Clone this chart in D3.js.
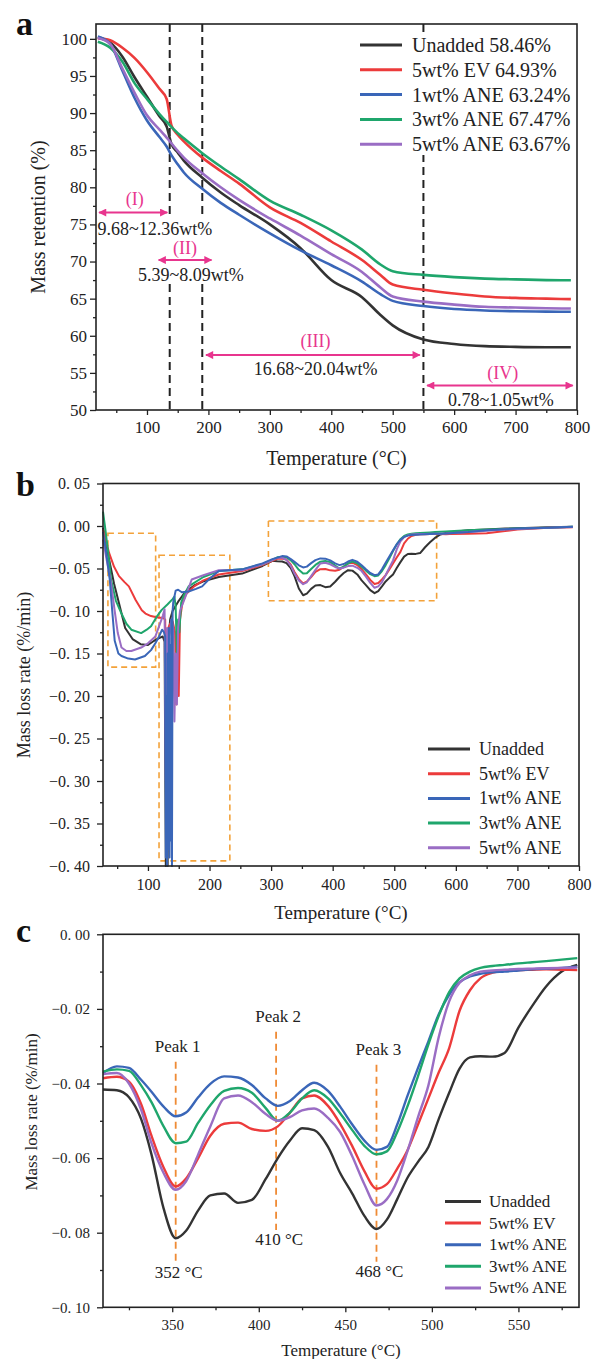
<!DOCTYPE html>
<html><head><meta charset="utf-8">
<script src="https://cdn.jsdelivr.net/npm/d3@7"></script>
<style>
body{margin:0;background:#fff}
svg{display:block;font-family:'Liberation Serif','Times New Roman',serif}
</style></head>
<body><div id="graph"></div>
<script>
// ---------- data ----------
var seriesNames = ['Unadded', '5wt% EV', '1wt% ANE', '3wt% ANE', '5wt% ANE']
var residue = ['58.46%', '64.93%', '63.24%', '67.47%', '63.67%']
var colors = ['#333333', '#ec3b3b', '#3a66b8', '#1fa66c', '#9a6dc4']

// panel a: mass retention (%)
var tempA = [20, 40, 60, 80, 100, 120, 132, 140, 150, 160, 190, 220, 250, 300, 350, 400, 450, 480, 500, 550, 600, 650, 700, 750, 790]
var tgUnadded = [100.2, 99.5, 97.6, 94.8, 92.2, 89.6, 88.2, 85.8, 84.7, 83.6, 81.3, 79.3, 77.6, 75.0, 71.8, 67.5, 65.2, 62.8, 61.4, 59.5, 58.9, 58.6, 58.5, 58.46, 58.46]
var tgEV = [100.1, 99.8, 98.8, 97.4, 95.5, 93.3, 91.9, 88.3, 87.1, 86.2, 84.0, 82.2, 80.5, 77.3, 75.2, 72.7, 70.2, 68.2, 66.9, 66.2, 65.7, 65.3, 65.1, 65.0, 64.93]
var tgANE1 = [100.3, 99.3, 95.7, 92.0, 89.0, 86.8, 85.5, 84.3, 83.1, 82.0, 79.8, 77.9, 76.3, 73.8, 71.5, 69.5, 67.3, 65.6, 64.7, 64.0, 63.6, 63.4, 63.3, 63.25, 63.24]
var tgANE3 = [99.6, 98.8, 96.9, 94.0, 91.9, 89.9, 88.8, 88.1, 87.3, 86.6, 84.6, 82.8, 81.1, 78.2, 76.3, 74.2, 71.6, 69.6, 68.7, 68.2, 67.9, 67.7, 67.6, 67.5, 67.47]
var tgANE5 = [100.1, 99.3, 96.0, 92.7, 89.7, 87.8, 86.7, 85.9, 84.9, 84.0, 81.9, 80.0, 78.3, 75.8, 73.5, 71.0, 68.6, 66.5, 65.3, 64.6, 64.2, 63.9, 63.8, 63.7, 63.67]
var stageLines = [137, 190, 550]

// panel c: DTG 310-585 (also the middle part of panel b)
var tempC = [310, 318, 325, 332, 338, 345, 352, 358, 365, 372, 380, 388, 396, 404, 411, 418, 425, 432, 440, 447, 454, 461, 468, 474, 480, 486, 492, 498, 504, 510, 516, 522, 528, 535, 542, 550, 558, 566, 575, 584]
var dtgUnadded = [-0.0416, -0.0418, -0.0437, -0.0495, -0.0590, -0.0735, -0.0815, -0.0795, -0.0740, -0.0700, -0.0695, -0.0720, -0.0712, -0.0656, -0.0600, -0.0553, -0.0520, -0.0525, -0.0570, -0.0640, -0.0695, -0.0755, -0.0790, -0.0765, -0.0710, -0.0652, -0.0610, -0.0570, -0.0495, -0.0425, -0.0360, -0.0330, -0.0327, -0.0328, -0.0318, -0.0250, -0.0192, -0.0140, -0.0100, -0.0082]
var dtgEV = [-0.0386, -0.0382, -0.0395, -0.0455, -0.0540, -0.0625, -0.0676, -0.0655, -0.0600, -0.0540, -0.0508, -0.0505, -0.0522, -0.0527, -0.0515, -0.0478, -0.0440, -0.0432, -0.0460, -0.0508, -0.0568, -0.0635, -0.0682, -0.0670, -0.0628, -0.0578, -0.0510, -0.0440, -0.0370, -0.0305, -0.0205, -0.0150, -0.0118, -0.0103, -0.0098, -0.0096, -0.0095, -0.0094, -0.0095, -0.0096]
var dtgANE1 = [-0.0372, -0.0354, -0.0358, -0.0390, -0.0422, -0.0462, -0.0488, -0.0478, -0.0437, -0.0401, -0.0381, -0.0384, -0.0404, -0.0440, -0.0460, -0.0447, -0.0418, -0.0398, -0.0420, -0.0462, -0.0510, -0.0553, -0.0578, -0.0570, -0.0510, -0.0432, -0.0358, -0.0287, -0.0214, -0.0162, -0.0128, -0.0113, -0.0106, -0.0102, -0.0100, -0.0097, -0.0094, -0.0092, -0.0090, -0.0087]
var dtgANE3 = [-0.0368, -0.0362, -0.0366, -0.0405, -0.0450, -0.0515, -0.0560, -0.0556, -0.0505, -0.0458, -0.0420, -0.0412, -0.0425, -0.0466, -0.0500, -0.0478, -0.0440, -0.0418, -0.0440, -0.0480, -0.0525, -0.0567, -0.0590, -0.0582, -0.0530, -0.0460, -0.0380, -0.0295, -0.0218, -0.0155, -0.0118, -0.0100, -0.0090, -0.0085, -0.0082, -0.0078, -0.0075, -0.0072, -0.0068, -0.0064]
var dtgANE5 = [-0.0375, -0.0372, -0.0400, -0.0470, -0.0560, -0.0640, -0.0685, -0.0662, -0.0590, -0.0515, -0.0440, -0.0432, -0.0450, -0.0482, -0.0500, -0.0490, -0.0472, -0.0467, -0.0492, -0.0530, -0.0595, -0.0670, -0.0727, -0.0710, -0.0660, -0.0580, -0.0490, -0.0405, -0.0275, -0.0180, -0.0130, -0.0110, -0.0100, -0.0097, -0.0095, -0.0093, -0.0092, -0.0091, -0.0090, -0.0089]

// panel b: DTG below 310 (each run has its own spikes)
var lowTUnadded = [27, 31, 36, 45, 53, 63, 75, 88, 100, 110, 118, 124, 127, 129, 130.5, 132, 134, 136, 140, 150, 160, 175, 190, 215, 253, 286, 302]
var lowVUnadded = [-0.002, -0.015, -0.036, -0.068, -0.091, -0.120, -0.133, -0.139, -0.140, -0.135, -0.132, -0.130, -0.136, -0.400, -0.160, -0.400, -0.130, -0.110, -0.100, -0.088, -0.078, -0.070, -0.065, -0.060, -0.056, -0.047, -0.041]
var lowTEV = [27, 31, 37, 45, 53, 62, 69, 80, 90, 96, 105, 112, 118, 124, 128, 131, 133, 136, 140, 144, 146, 148, 150, 152, 156, 162, 175, 190, 215, 253, 286, 302]
var lowVEV = [-0.004, -0.015, -0.032, -0.048, -0.059, -0.066, -0.071, -0.087, -0.099, -0.103, -0.106, -0.107, -0.108, -0.108, -0.110, -0.360, -0.120, -0.115, -0.112, -0.125, -0.210, -0.130, -0.200, -0.110, -0.090, -0.080, -0.071, -0.064, -0.057, -0.053, -0.046, -0.041]
var lowTANE1 = [27, 32, 38, 42, 46, 52, 57, 68, 79, 95, 105, 112, 118, 123, 126, 128, 129, 130, 131, 132, 133, 134, 135, 136, 137, 138, 139, 140, 141, 145, 149, 155, 166, 178, 188, 200, 215, 253, 286, 302]
var lowVANE1 = [-0.007, -0.030, -0.063, -0.100, -0.135, -0.150, -0.153, -0.156, -0.157, -0.153, -0.146, -0.138, -0.130, -0.122, -0.125, -0.130, -0.390, -0.200, -0.400, -0.150, -0.380, -0.120, -0.390, -0.140, -0.370, -0.110, -0.400, -0.100, -0.090, -0.076, -0.075, -0.078, -0.077, -0.074, -0.071, -0.062, -0.053, -0.051, -0.044, -0.039]
var lowTANE3 = [27, 31, 36, 40, 48, 57, 65, 73, 89, 98, 105, 115, 122, 132, 140, 143, 145, 147, 149, 151, 154, 158, 166, 190, 215, 253, 286, 302]
var lowVANE3 = [0.017, -0.005, -0.035, -0.063, -0.088, -0.103, -0.115, -0.122, -0.126, -0.122, -0.118, -0.106, -0.099, -0.092, -0.086, -0.083, -0.095, -0.150, -0.110, -0.125, -0.090, -0.082, -0.071, -0.060, -0.053, -0.051, -0.045, -0.040]
var lowTANE5 = [27, 33, 40, 46, 51, 57, 65, 73, 89, 100, 112, 118, 124, 127, 129, 131, 133, 135, 138, 141, 143, 145, 147, 149, 152, 160, 171, 190, 215, 253, 286, 302]
var lowVANE5 = [-0.016, -0.040, -0.067, -0.100, -0.126, -0.143, -0.147, -0.147, -0.143, -0.138, -0.130, -0.118, -0.106, -0.098, -0.300, -0.120, -0.280, -0.130, -0.110, -0.120, -0.230, -0.150, -0.210, -0.120, -0.100, -0.085, -0.063, -0.058, -0.052, -0.052, -0.045, -0.040]
// panel b above 585
var highT = [590, 620, 650, 680, 700, 750, 790]
var highVUnadded = [-0.0072, -0.0050, -0.0040, -0.0030, -0.0025, -0.0015, -0.0010]
var highVEV = [-0.0095, -0.0090, -0.0085, -0.0060, -0.0040, -0.0020, -0.0015]
var highVANE1 = [-0.0085, -0.0070, -0.0050, -0.0038, -0.0030, -0.0020, -0.0010]
var highVANE3 = [-0.0062, -0.0050, -0.0042, -0.0035, -0.0030, -0.0020, -0.0010]
var highVANE5 = [-0.0085, -0.0070, -0.0055, -0.0042, -0.0035, -0.0020, -0.0012]

// panel b highlight boxes [T0, T1, v0, v1]
var boxesB = [[35, 112.5, -0.166, -0.0086], [118, 233, -0.394, -0.0344], [295.6, 568.8, -0.088, 0.0059]]

// panel c peaks
var peakT = [352, 410, 468]
var peakNames = ['Peak 1', 'Peak 2', 'Peak 3']
var peakTop = [-0.0342, -0.0261, -0.0350]
var peakBottom = [-0.0881, -0.0793, -0.0878]

// panel a stage annotations
var stageNames = ['(I)', '(II)', '(III)', '(IV)']
var stageLoss = ['9.68~12.36wt%', '5.39~8.09wt%', '16.68~20.04wt%', '0.78~1.05wt%']
var stageFrom = [22, 119, 196, 556]
var stageTo = [133, 205, 544, 793]
var stageArrowV = [76.6, 70.2, 57.4, 53.3]
var stageNameAt = [[80, 78.4], [162, 71.8], [374.5, 59.3], [679, 55.0]]
var stageLossAt = [[113, 74.4], [171.5, 68.2], [374.5, 55.5], [676, 51.4]]

// ---------- drawing ----------
var svg = d3.select('#graph').append('svg').attr('width', 592).attr('height', 1359)
var pink = '#e8358e', orange = '#f3a23a'

var defs = svg.append('defs')
defs.append('marker').attr('id', 'ah')
  .attr('viewBox', '0 0 10 10').attr('refX', 9).attr('refY', 5)
  .attr('markerWidth', 9).attr('markerHeight', 8).attr('markerUnits', 'userSpaceOnUse')
  .attr('orient', 'auto-start-reverse')
  .append('path').attr('d', 'M0,0L10,5L0,10z').attr('fill', pink)

function decFmt(d) {
  var s = Math.abs(d).toFixed(2).replace('.', '. ')
  return (d < -1e-9 ? '\u2212' : '') + s
}

function axes(x, y, o) {
  var y0 = y.range()[0], x0 = x.range()[0]
  var gx = svg.append('g').attr('transform', 'translate(0,' + y0 + ')')
  gx.call(d3.axisBottom(x).tickValues(o.xMajor).tickSize(5).tickPadding(o.xPad).tickFormat(o.xFmt || d3.format('d')))
  gx.append('g').call(d3.axisBottom(x).tickValues(o.xMinor).tickSize(3).tickFormat(''))
  var gy = svg.append('g').attr('transform', 'translate(' + x0 + ',0)')
  gy.call(d3.axisLeft(y).tickValues(o.yMajor).tickSize(6).tickPadding(o.yPad).tickFormat(o.yFmt))
  gy.append('g').call(d3.axisLeft(y).tickValues(o.yMinor).tickSize(3).tickFormat(''))
  ;[gx, gy].forEach(g => {
    g.selectAll('.domain').remove()
    g.selectAll('line').attr('stroke', '#222').attr('stroke-width', 1.3)
    g.selectAll('text').attr('fill', '#222').attr('font-family', "'Liberation Serif',serif")
  })
  gx.selectAll('text').attr('font-size', o.xFont)
  gy.selectAll('text').attr('font-size', o.yFont)
  svg.append('rect')
    .attr('x', x.range()[0]).attr('y', y.range()[1])
    .attr('width', x.range()[1] - x.range()[0]).attr('height', y.range()[0] - y.range()[1])
    .attr('fill', 'none').attr('stroke', '#222').attr('stroke-width', 1.6)
}

function titles(x, y, o) {
  svg.append('text').text('Temperature (\u00b0C)')
    .attr('x', (x.range()[0] + x.range()[1]) / 2).attr('y', o.xTitleY)
    .attr('text-anchor', 'middle').attr('font-size', o.xTitleSize).attr('fill', '#222')
  svg.append('text').text(o.yTitle)
    .attr('transform', 'translate(' + o.yTitleX + ',' + o.yTitleMid + ') rotate(-90)')
    .attr('text-anchor', 'middle').attr('dominant-baseline', 'central')
    .attr('font-size', o.yTitleSize).attr('fill', '#222')
  svg.append('text').text(o.letter)
    .attr('x', o.letterX).attr('y', o.letterY)
    .attr('font-size', 34).attr('font-weight', 'bold').attr('fill', '#111')
}

function legend(items, o) {
  if (o.bg) svg.append('rect').attr('x', o.bg[0]).attr('y', o.bg[1]).attr('width', o.bg[2]).attr('height', o.bg[3]).attr('fill', '#fff')
  items.forEach((t, i) => {
    var yy = o.y0 + i * o.dy
    svg.append('line').attr('x1', o.x1).attr('x2', o.x2).attr('y1', yy).attr('y2', yy)
      .attr('stroke', colors[i]).attr('stroke-width', 3)
    svg.append('text').text(t).attr('x', o.tx).attr('y', yy).attr('dominant-baseline', 'central')
      .attr('font-size', o.size).attr('fill', '#222')
  })
}

// ----- panel a -----
var xa = d3.scaleLinear().domain([17, 800]).range([96, 577])
var ya = d3.scaleLinear().domain([50, 102]).range([410, 24])
var tgAll = [tgUnadded, tgEV, tgANE1, tgANE3, tgANE5]

stageLines.forEach(t => {
  svg.append('line').attr('x1', xa(t)).attr('x2', xa(t)).attr('y1', ya(102)).attr('y2', ya(50))
    .attr('stroke', '#222').attr('stroke-width', 2).attr('stroke-dasharray', '8,5')
})
// white patch behind the stage I/II labels
svg.append('rect').attr('x', 98).attr('y', ya(stageArrowV[0]) + 2).attr('width', 118)
  .attr('height', ya(67.5) - ya(stageArrowV[0]) - 2).attr('fill', '#fff')

var lineA = d3.line().x(d => xa(d[0])).y(d => ya(d[1])).curve(d3.curveMonotoneX)
tgAll.forEach((vals, i) => {
  svg.append('path').attr('d', lineA(tempA.map((t, j) => [t, vals[j]])))
    .attr('fill', 'none').attr('stroke', colors[i]).attr('stroke-width', 2.6)
})

stageNames.forEach((n, i) => {
  svg.append('line')
    .attr('x1', xa(stageFrom[i])).attr('x2', xa(stageTo[i]))
    .attr('y1', ya(stageArrowV[i])).attr('y2', ya(stageArrowV[i]))
    .attr('stroke', pink).attr('stroke-width', 2)
    .attr('marker-start', 'url(#ah)').attr('marker-end', 'url(#ah)')
  svg.append('text').text(n).attr('x', xa(stageNameAt[i][0])).attr('y', ya(stageNameAt[i][1]))
    .attr('text-anchor', 'middle').attr('dominant-baseline', 'central')
    .attr('font-size', 18).attr('fill', pink)
  svg.append('text').text(stageLoss[i]).attr('x', xa(stageLossAt[i][0])).attr('y', ya(stageLossAt[i][1]))
    .attr('text-anchor', 'middle').attr('dominant-baseline', 'central')
    .attr('font-size', 18).attr('fill', '#222')
})

axes(xa, ya, {
  xMajor: d3.range(100, 801, 100), xMinor: d3.range(50, 800, 100),
  yMajor: d3.range(50, 101, 5), yMinor: d3.range(52.5, 101, 5),
  yFmt: d3.format('d'), xFont: 17, yFont: 17, xPad: 6, yPad: 3
})
titles(xa, ya, {xTitleY: 465, xTitleSize: 20, yTitle: 'Mass retention (%)', yTitleX: 38,
  yTitleMid: 217, yTitleSize: 20, letter: 'a', letterX: 16, letterY: 35})
legend(seriesNames.map((n, i) => n + ' ' + residue[i]),
  {x1: 360, x2: 402, tx: 412, y0: 45, dy: 24.8, size: 20, bg: [355, 33, 215, 122]})

// ----- panel b -----
var xb = d3.scaleLinear().domain([27, 800]).range([103, 579])
var yb = d3.scaleLinear().domain([-0.40, 0.05]).range([866, 483.5])
var lowT = [lowTUnadded, lowTEV, lowTANE1, lowTANE3, lowTANE5]
var lowV = [lowVUnadded, lowVEV, lowVANE1, lowVANE3, lowVANE5]
var highV = [highVUnadded, highVEV, highVANE1, highVANE3, highVANE5]
var dtgAll = [dtgUnadded, dtgEV, dtgANE1, dtgANE3, dtgANE5]

boxesB.forEach(b => {
  svg.append('rect').attr('x', xb(b[0])).attr('y', yb(b[3]))
    .attr('width', xb(b[1]) - xb(b[0])).attr('height', yb(b[2]) - yb(b[3]))
    .attr('fill', 'none').attr('stroke', orange).attr('stroke-width', 1.6).attr('stroke-dasharray', '6,4')
})
var lineB = d3.line().x(d => xb(d[0])).y(d => yb(d[1]))
var drawOrderB = [0, 1, 3, 4, 2]
drawOrderB.forEach(i => {
  var pts = lowT[i].map((t, j) => [t, lowV[i][j]])
    .concat(tempC.map((t, j) => [t, dtgAll[i][j]]))
    .concat(highT.map((t, j) => [t, highV[i][j]]))
  svg.append('path').attr('d', lineB(pts))
    .attr('fill', 'none').attr('stroke', colors[i]).attr('stroke-width', 2).attr('stroke-linejoin', 'round')
})
axes(xb, yb, {
  xMajor: d3.range(100, 801, 100), xMinor: d3.range(50, 800, 100),
  yMajor: d3.range(-8, 2).map(k => k * 0.05), yMinor: d3.range(-8, 1).map(k => k * 0.05 + 0.025),
  yFmt: decFmt, xFont: 16, yFont: 16, xPad: 8, yPad: 7
})
titles(xb, yb, {xTitleY: 919, xTitleSize: 19, yTitle: 'Mass loss rate (%/min)', yTitleX: 24,
  yTitleMid: 675, yTitleSize: 18, letter: 'b', letterX: 16, letterY: 496})
legend(seriesNames, {x1: 428, x2: 470, tx: 479, y0: 749, dy: 24.7, size: 18})

// ----- panel c -----
var xc = d3.scaleLinear().domain([310, 585]).range([103, 579])
var yc = d3.scaleLinear().domain([-0.10, 0]).range([1307.3, 934.3])

peakT.forEach((t, i) => {
  svg.append('line').attr('x1', xc(t)).attr('x2', xc(t)).attr('y1', yc(peakTop[i])).attr('y2', yc(peakBottom[i]))
    .attr('stroke', '#ef8b35').attr('stroke-width', 1.8).attr('stroke-dasharray', '7,5')
  svg.append('text').text(peakNames[i]).attr('x', xc(t) + 2).attr('y', yc(peakTop[i]) - 10)
    .attr('text-anchor', 'middle').attr('font-size', 17).attr('fill', '#222')
  svg.append('text').text(t + ' \u00b0C').attr('x', xc(t) + 3).attr('y', yc(peakBottom[i]) + 15)
    .attr('text-anchor', 'middle').attr('font-size', 17).attr('fill', '#222')
})
var lineC = d3.line().x(d => xc(d[0])).y(d => yc(d[1])).curve(d3.curveMonotoneX)
dtgAll.forEach((vals, i) => {
  svg.append('path').attr('d', lineC(tempC.map((t, j) => [t, vals[j]])))
    .attr('fill', 'none').attr('stroke', colors[i]).attr('stroke-width', 2.4)
})
axes(xc, yc, {
  xMajor: d3.range(350, 551, 50), xMinor: d3.range(325, 586, 50),
  yMajor: d3.range(-5, 1).map(k => k * 0.02), yMinor: d3.range(-5, 0).map(k => k * 0.02 + 0.01),
  yFmt: decFmt, xFont: 15, yFont: 15, xPad: 7, yPad: 7
})
titles(xc, yc, {xTitleY: 1356, xTitleSize: 17, yTitle: 'Mass loss rate (%/min)', yTitleX: 31,
  yTitleMid: 1112, yTitleSize: 17, letter: 'c', letterX: 16, letterY: 942})
legend(seriesNames, {x1: 445, x2: 481, tx: 489, y0: 1201.5, dy: 21.6, size: 17})
</script>
</body></html>
